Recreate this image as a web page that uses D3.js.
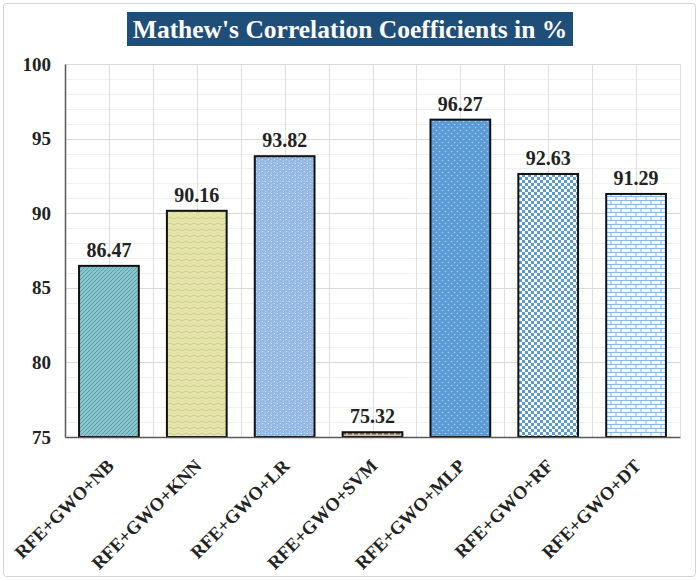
<!DOCTYPE html>
<html>
<head>
<meta charset="utf-8">
<script src="https://cdn.jsdelivr.net/npm/d3@7"></script>
<style>
  html, body { margin: 0; padding: 0; background: #fff; }
  svg { display: block; }
</style>
</head>
<body>
<div id="chart"></div>
<script>
const categories = ["RFE+GWO+NB", "RFE+GWO+KNN", "RFE+GWO+LR", "RFE+GWO+SVM", "RFE+GWO+MLP", "RFE+GWO+RF", "RFE+GWO+DT"];
const values = [86.47, 90.16, 93.82, 75.32, 96.27, 92.63, 91.29];
const yTicks = [75, 80, 85, 90, 95, 100];
const titleText = "Mathew's Correlation Coefficients in %";

const W = 700, H = 581;
const plot = { left: 65, right: 680, top: 64, bottom: 437 };
const serif = "'Liberation Serif', 'Times New Roman', serif";

const svg = d3.select("#chart").append("svg").attr("width", W).attr("height", H);
const defs = svg.append("defs");

// ---- patterns ----
function pat(id, w, h, bg) {
  const p = defs.append("pattern").attr("id", id).attr("patternUnits", "userSpaceOnUse")
    .attr("width", w).attr("height", h);
  p.append("rect").attr("width", w).attr("height", h).attr("fill", bg);
  return p;
}
{
  const p = pat("pNB", 4, 4, "#86c5cd");
  p.append("path").attr("d", "M-1,1 L1,-1 M0,4 L4,0 M3,5 L5,3").attr("stroke", "#5f9fa8").attr("stroke-width", 1);
}
{
  const p = pat("pKNN", 8, 6, "#ece7a4");
  p.append("path").attr("d", "M0,2 Q2,0 4,2 T8,2").attr("fill", "none").attr("stroke", "#b9c9a3").attr("stroke-width", 1);
  p.append("path").attr("d", "M0,5 Q2,3.5 4,5 T8,5").attr("fill", "none").attr("stroke", "#d6d8a8").attr("stroke-width", 0.8);
}
{
  const p = pat("pLR", 6, 6, "#8fb5e4");
  p.append("path").attr("d", "M0.5,1 L2,2 M3.5,4 L5,3.5 M1,4.5 L1.5,5.5 M4,0.5 L5,1.5").attr("stroke", "#e4eefa").attr("stroke-width", 1);
}
{
  const p = pat("pSVM", 6, 4, "#d2c3a4");
  p.append("rect").attr("x", 0).attr("y", 1).attr("width", 4).attr("height", 1.5).attr("fill", "#6e5e4a");
}
{
  const p = pat("pMLP", 6, 6, "#5b9bd5");
  p.append("circle").attr("cx", 1.5).attr("cy", 1.5).attr("r", 0.8).attr("fill", "#a9cdf0");
  p.append("circle").attr("cx", 4.5).attr("cy", 4.5).attr("r", 0.8).attr("fill", "#a9cdf0");
}
{
  const p = pat("pRF", 6, 6, "#ffffff");
  p.append("rect").attr("x", 0).attr("y", 0).attr("width", 3).attr("height", 3).attr("fill", "#5b9bd5");
  p.append("rect").attr("x", 3).attr("y", 3).attr("width", 3).attr("height", 3).attr("fill", "#5b9bd5");
}
{
  const p = pat("pDT", 10, 8, "#f4f8fd");
  p.append("path").attr("d", "M0,0.5 H10 M0,4.5 H10 M1,0.5 V4.5 M6,4.5 V8.5").attr("stroke", "#8ab8e6").attr("stroke-width", 1).attr("fill", "none");
}
const fills = ["pNB", "pKNN", "pLR", "pSVM", "pMLP", "pRF", "pDT"];

// ---- outer frame ----
svg.append("rect").attr("x", 3.5).attr("y", 3.5).attr("width", W - 8).attr("height", H - 8)
  .attr("rx", 3).attr("fill", "#fff").attr("stroke", "#d4d4d4").attr("stroke-width", 1);

// ---- scales ----
const x = d3.scaleBand().domain(categories).range([plot.left, plot.right]).paddingInner(0.32).paddingOuter(0.16);
const y = d3.scaleLinear().domain([75, 100]).range([plot.bottom, plot.top]);

// ---- gridlines ----
const g = svg.append("g");
const minor = d3.range(75, 101, 1).filter(v => v % 5 !== 0);
g.selectAll(".hmin").data(minor).join("line")
  .attr("x1", plot.left).attr("x2", plot.right)
  .attr("y1", d => Math.round(y(d)) + 0.5).attr("y2", d => Math.round(y(d)) + 0.5)
  .attr("stroke", "#efefef").attr("stroke-width", 1);
const step = x.step();
const vlines = d3.range(1, categories.length * 2 + 1).map(i => plot.left + i * step / 2);
g.selectAll(".v").data(vlines).join("line")
  .attr("x1", d => Math.round(d) + 0.5).attr("x2", d => Math.round(d) + 0.5)
  .attr("y1", plot.top).attr("y2", plot.bottom)
  .attr("stroke", "#dedede").attr("stroke-width", 1);
g.selectAll(".hmaj").data(yTicks.filter(v => v > 75)).join("line")
  .attr("x1", plot.left).attr("x2", plot.right)
  .attr("y1", d => Math.round(y(d)) + 0.5).attr("y2", d => Math.round(y(d)) + 0.5)
  .attr("stroke", "#d9d9d9").attr("stroke-width", 1);

// ---- axes ----
const yAxis = d3.axisLeft(y).tickValues(yTicks).tickSize(0).tickPadding(14);
const ya = svg.append("g").attr("transform", `translate(${plot.left},0)`).call(yAxis);
ya.select(".domain").attr("stroke", "#595959").attr("stroke-width", 1.5);
ya.selectAll("text").attr("font-family", serif).attr("font-weight", "bold").attr("font-size", 19).attr("fill", "#222");

// ---- bars ----
svg.append("g").selectAll("rect").data(values).join("rect")
  .attr("x", (d, i) => x(categories[i]))
  .attr("y", d => y(d))
  .attr("width", x.bandwidth())
  .attr("height", d => y(75) - y(d))
  .attr("fill", (d, i) => `url(#${fills[i]})`)
  .attr("stroke", "#111").attr("stroke-width", 2);

const xAxis = d3.axisBottom(x).tickSize(0).tickFormat("");
const xa = svg.append("g").attr("transform", `translate(0,${plot.bottom})`).call(xAxis);
xa.select(".domain").attr("stroke", "#595959").attr("stroke-width", 1.5);

// value labels
svg.append("g").selectAll("text").data(values).join("text")
  .attr("x", (d, i) => x(categories[i]) + x.bandwidth() / 2)
  .attr("y", d => y(d) - 9)
  .attr("text-anchor", "middle")
  .attr("font-family", serif).attr("font-weight", "bold").attr("font-size", 20).attr("fill", "#222")
  .text(d => d.toFixed(2));

// category labels
svg.append("g").selectAll("text").data(categories).join("text")
  .attr("transform", d => `translate(${x(d) + x.bandwidth() / 2 + 6},${plot.bottom + 30}) rotate(-45)`)
  .attr("text-anchor", "end")
  .attr("font-family", serif).attr("font-weight", "bold").attr("font-size", 18.5).attr("fill", "#222")
  .text(d => d);

// ---- title ----
svg.append("rect").attr("x", 127).attr("y", 12).attr("width", 446).attr("height", 34).attr("fill", "#1f4e79");
svg.append("text").attr("x", 350).attr("y", 37.5).attr("text-anchor", "middle")
  .attr("font-family", serif).attr("font-weight", "bold").attr("font-size", 25.5).attr("fill", "#fff")
  .text(titleText);
</script>
</body>
</html>
